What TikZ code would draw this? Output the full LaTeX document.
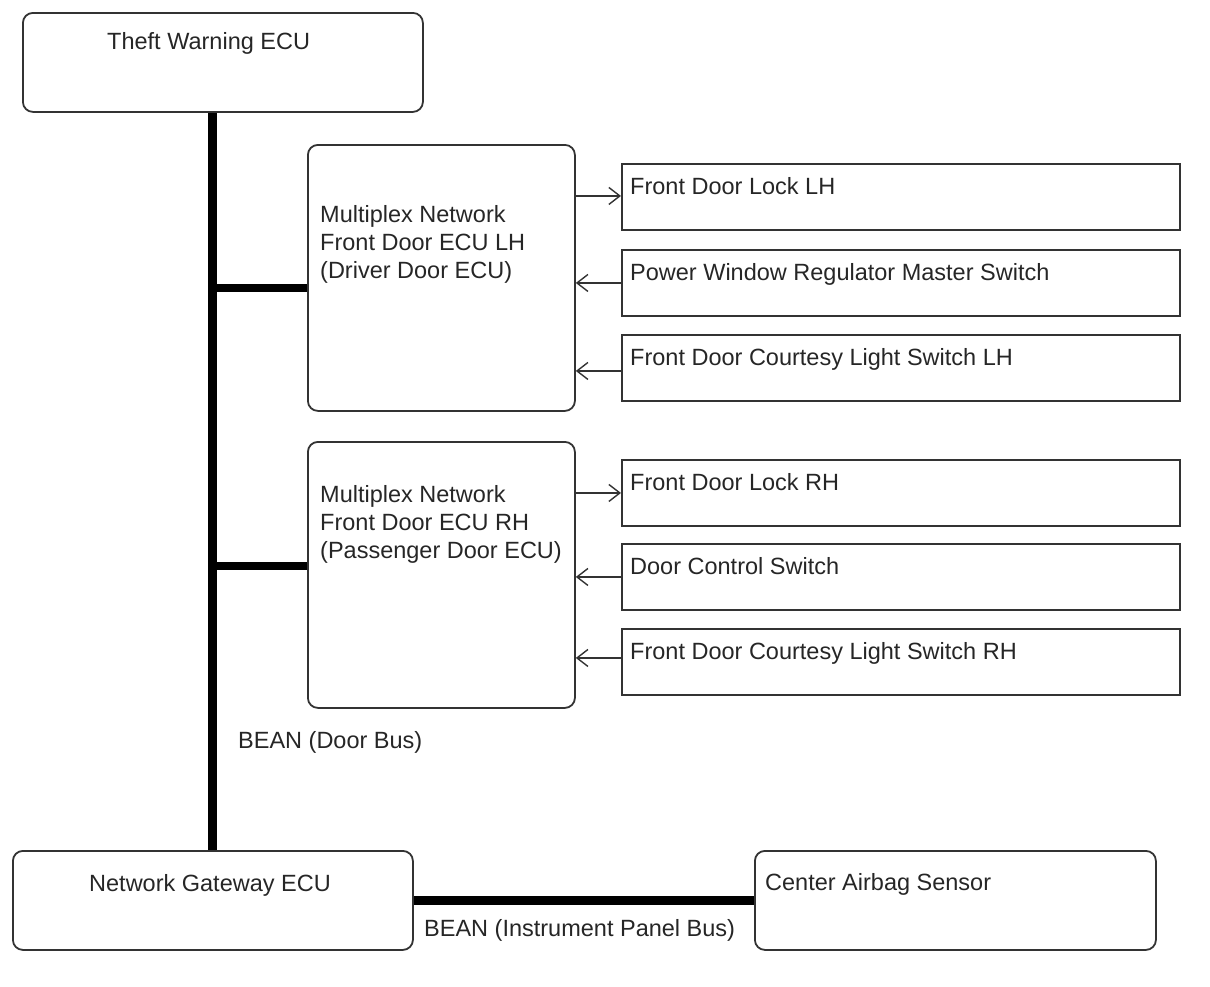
\documentclass[tikz,border=0pt]{standalone}
\usepackage{fontspec}
\setmainfont{Liberation Sans}
\usetikzlibrary{arrows.meta,calc}
\definecolor{ink}{HTML}{262626}
\definecolor{edge}{HTML}{333333}
\begin{document}
\begin{tikzpicture}[x=1pt,y=-1pt,
  ecubox/.style={draw=edge,line width=1.8pt,rounded corners=10pt,anchor=north west,inner sep=0pt},
  devbox/.style={draw=edge,line width=1.9pt,anchor=north west,inner sep=0pt,minimum width=558pt,minimum height=66pt},
  txt/.style={text=ink,inner sep=0pt,font=\fontsize{23.5}{28}\selectfont},
  bus/.style={line width=9pt,black},
  sig/.style={draw=edge,line width=1.4pt,-{Straight Barb[length=11pt,width=17pt,line width=1.4pt]}}]
\useasboundingbox (0,0) rectangle (1210,986);
% ECU boxes
\node[ecubox,minimum width=400pt,minimum height=99pt] (tw) at (22,12) {};
\node[ecubox,minimum width=267pt,minimum height=266pt] (lh) at (307,144) {};
\node[ecubox,minimum width=267pt,minimum height=266pt] (rh) at (307,441) {};
\node[ecubox,minimum width=400pt,minimum height=99pt] (gw) at (12,850) {};
\node[ecubox,minimum width=401pt,minimum height=99pt] (ca) at (754,850) {};
% device boxes
\node[devbox] (fdl) at (621,163) {};
\node[devbox] (pw)  at (621,249) {};
\node[devbox] (cl)  at (621,334) {};
\node[devbox] (fdr) at (621,459) {};
\node[devbox] (dcs) at (621,543) {};
\node[devbox] (cr)  at (621,628) {};
% texts
\node[txt,anchor=base west] (twt) at (107,49) {Theft Warning ECU};
\node[txt,anchor=north west,align=left] (lht) at (320,205) {Multiplex Network\\Front Door ECU LH\\(Driver Door ECU)};
\node[txt,anchor=north west,align=left] (rht) at (320,485) {Multiplex Network\\Front Door ECU RH\\(Passenger Door ECU)};
\node[txt,anchor=base west] (fdlt) at (630,194) {Front Door Lock LH};
\node[txt,anchor=base west] (pwt)  at (630,280) {Power Window Regulator Master Switch};
\node[txt,anchor=base west] (clt)  at (630,365) {Front Door Courtesy Light Switch LH};
\node[txt,anchor=base west] (fdrt) at (630,490) {Front Door Lock RH};
\node[txt,anchor=base west] (dcst) at (630,574) {Door Control Switch};
\node[txt,anchor=base west] (crt)  at (630,659) {Front Door Courtesy Light Switch RH};
\node[txt,anchor=base west] (gwt) at (89,891) {Network Gateway ECU};
\node[txt,anchor=base west] (cat) at (765,890) {Center Airbag Sensor};
\node[txt,anchor=base west] (b1) at (238,748) {BEAN (Door Bus)};
\node[txt,anchor=base west] (b2) at (424,936) {BEAN (Instrument Panel Bus)};
% buses
\draw[bus] (gw.north) -- (gw.north |- tw.south);
\draw[bus,line width=8pt] ($(gw.north |- lh.west)+(0,10)$) -- ($(lh.west)+(0,10)$);
\draw[bus,line width=8pt] ($(gw.north |- rh.west)+(0,-9)$) -- ($(rh.west)+(0,-9)$);
\draw[bus] (gw.east) -- (ca.west);
% signals
\draw[sig] ($(lh.east |- fdl.west)+(0,-1)$) -- ($(fdl.west)+(0,-1)$);
\draw[sig] (pw.west) -- (lh.east |- pw.west);
\draw[sig] ($(cl.west)+(0,3)$) -- ($(lh.east |- cl.west)+(0,3)$);
\draw[sig] (rh.east |- fdr.west) -- (fdr.west);
\draw[sig] (dcs.west) -- (rh.east |- dcs.west);
\draw[sig] ($(cr.west)+(0,-4)$) -- ($(rh.east |- cr.west)+(0,-4)$);
\end{tikzpicture}
\end{document}
